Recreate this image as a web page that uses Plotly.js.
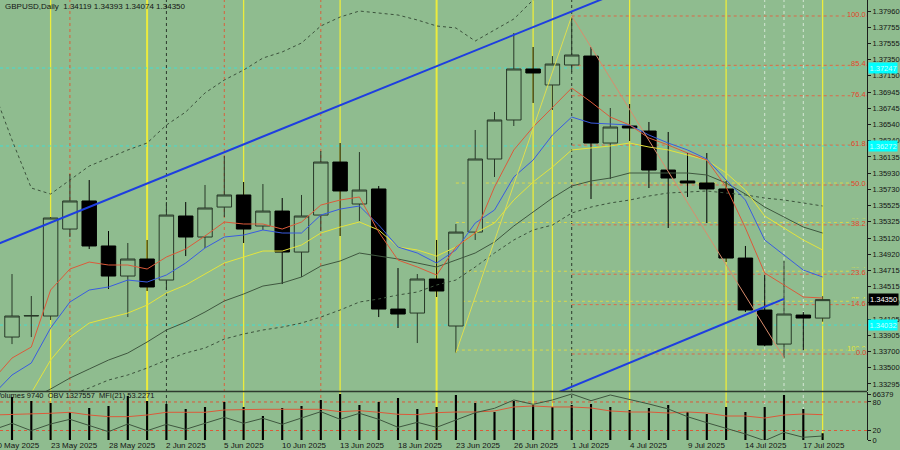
<!DOCTYPE html>
<html><head><meta charset="utf-8">
<script src="https://cdn.plot.ly/plotly-3.0.1.min.js"></script>
<style>html,body{margin:0;padding:0;background:#8fbc8f;overflow:hidden}#chart{width:900px;height:450px}</style>
</head><body><div id="chart"></div>
<script>
const dates = ['20 May 2025','21 May 2025','22 May 2025','23 May 2025','26 May 2025','27 May 2025','28 May 2025','29 May 2025','30 May 2025','2 Jun 2025','3 Jun 2025','4 Jun 2025','5 Jun 2025','6 Jun 2025','9 Jun 2025','10 Jun 2025','11 Jun 2025','12 Jun 2025','13 Jun 2025','16 Jun 2025','17 Jun 2025','18 Jun 2025','19 Jun 2025','20 Jun 2025','23 Jun 2025','24 Jun 2025','25 Jun 2025','26 Jun 2025','27 Jun 2025','30 Jun 2025','1 Jul 2025','2 Jul 2025','3 Jul 2025','4 Jul 2025','7 Jul 2025','8 Jul 2025','9 Jul 2025','10 Jul 2025','11 Jul 2025','14 Jul 2025','15 Jul 2025','16 Jul 2025','17 Jul 2025','18 Jul 2025'];
const xTickLabels = ['20 May 2025','23 May 2025','28 May 2025','2 Jun 2025','5 Jun 2025','10 Jun 2025','13 Jun 2025','18 Jun 2025','23 Jun 2025','26 Jun 2025','1 Jul 2025','4 Jul 2025','9 Jul 2025','14 Jul 2025','17 Jul 2025'];
const priceTicks = [1.37960,1.37755,1.37555,1.37350,1.37150,1.36945,1.36745,1.36540,1.36340,1.36135,1.35930,1.35730,1.35525,1.35325,1.35120,1.34920,1.34715,1.34515,1.34310,1.34105,1.33905,1.33700,1.33500,1.33295];

const open  = [null,1.33882,1.34145,1.34145,1.35233,1.35584,1.35021,1.34645,1.34858,1.34595,1.35396,1.35133,1.35508,1.35659,1.35271,1.35458,1.34945,1.35408,1.36071,1.35546,1.35734,1.34232,1.34182,1.34608,1.34020,1.35195,1.36109,1.36597,1.37235,1.37035,1.37285,1.37397,1.36309,1.36522,1.36459,1.35971,1.35834,1.35809,1.35734,1.34870,1.34220,1.33794,1.34157,1.34119];
const high  = [null,1.34670,1.34395,1.35383,1.35921,1.35846,1.35208,1.35058,1.35096,1.35571,1.35571,1.35784,1.36146,1.35821,1.35796,1.35621,1.35659,1.36209,1.36309,1.36196,1.35771,1.34745,1.34670,1.35096,1.35296,1.36472,1.36697,1.37685,1.37510,1.37397,1.37898,1.37510,1.36747,1.36797,1.36572,1.36447,1.36184,1.36184,1.35834,1.35021,1.34658,1.34833,1.34195,1.34393];
const low   = [null,1.33794,1.33882,1.34095,1.35133,1.34983,1.34483,1.34132,1.34458,1.34470,1.34895,1.34996,1.35383,1.35058,1.35221,1.34545,1.34633,1.35208,1.35146,1.35333,1.34132,1.33995,1.33807,1.34383,1.33682,1.35096,1.35884,1.36522,1.36810,1.36722,1.37197,1.35609,1.35859,1.36334,1.35746,1.35246,1.35634,1.35308,1.34820,1.34195,1.33769,1.33619,1.33719,1.34074];
const close = [null,1.34145,1.34150,1.35371,1.35584,1.35021,1.34645,1.34858,1.34508,1.35408,1.35133,1.35496,1.35659,1.35233,1.35458,1.34945,1.35396,1.36071,1.35709,1.35721,1.34232,1.34170,1.34608,1.34458,1.35195,1.36109,1.36597,1.37235,1.37185,1.37297,1.37410,1.36309,1.36509,1.36497,1.35971,1.35871,1.35809,1.35734,1.34870,1.34220,1.33782,1.34170,1.34120,1.34350];

const maRed    = [1.33344,1.33619,1.33757,1.34470,1.34733,1.34820,1.34783,1.34783,1.34733,1.34883,1.34983,1.35146,1.35321,1.35296,1.35296,1.35233,1.35321,1.35533,1.35596,1.35634,1.35196,1.34845,1.34758,1.34658,1.35008,1.35183,1.35759,1.36222,1.36509,1.36759,1.36997,1.36822,1.36634,1.36534,1.36372,1.36284,1.36184,1.36096,1.35759,1.35246,1.34683,1.34533,1.34383,1.34370];
const maBlue   = [1.33157,1.33407,1.33557,1.33995,1.34320,1.34470,1.34508,1.34595,1.34570,1.34658,1.34808,1.34996,1.35133,1.35158,1.35221,1.35183,1.35183,1.35408,1.35483,1.35521,1.35283,1.35008,1.34933,1.34808,1.34971,1.35308,1.35471,1.35884,1.36096,1.36409,1.36634,1.36559,1.36547,1.36534,1.36409,1.36309,1.36222,1.36109,1.35846,1.35596,1.35096,1.34908,1.34720,1.34633];
const maYellow = [1.32781,1.32969,1.33182,1.33594,1.33882,1.34057,1.34120,1.34182,1.34282,1.34433,1.34533,1.34670,1.34808,1.34883,1.34958,1.34958,1.35033,1.35183,1.35258,1.35321,1.35221,1.35008,1.34971,1.34895,1.35008,1.35183,1.35308,1.35596,1.35821,1.36009,1.36222,1.36247,1.36272,1.36309,1.36259,1.36222,1.36159,1.36096,1.35934,1.35721,1.35396,1.35246,1.35096,1.34971];
const maDark   = [1.32869,1.32994,1.33107,1.33232,1.33369,1.33482,1.33594,1.33682,1.33820,1.33970,1.34070,1.34195,1.34333,1.34420,1.34520,1.34558,1.34633,1.34770,1.34833,1.34933,1.34895,1.34858,1.34808,1.34758,1.34845,1.34933,1.35071,1.35271,1.35446,1.35621,1.35771,1.35834,1.35871,1.35934,1.35934,1.35934,1.35934,1.35909,1.35809,1.35671,1.35508,1.35383,1.35258,1.35183];
const bandUp   = [1.36997,1.36347,1.35746,1.35671,1.35846,1.36021,1.36121,1.36222,1.36309,1.36534,1.36697,1.36935,1.37097,1.37222,1.37372,1.37448,1.37560,1.37773,1.37885,1.37960,1.37935,1.37910,1.37848,1.37773,1.37748,1.37585,1.37723,1.37860,1.38098,1.38286,1.38473,1.38536,1.38600,1.38660,1.38700,1.38720,1.38740,1.38740,1.38720,1.38680,1.38640,1.38600,1.38580,1.38560];
const bandLow  = [1.32594,1.32781,1.32944,1.33069,1.33157,1.33244,1.33344,1.33407,1.33494,1.33594,1.33682,1.33745,1.33857,1.33920,1.33970,1.34007,1.34057,1.34132,1.34220,1.34320,1.34358,1.34408,1.34445,1.34533,1.34595,1.34758,1.34933,1.35096,1.35221,1.35283,1.35433,1.35508,1.35559,1.35596,1.35646,1.35684,1.35696,1.35709,1.35684,1.35659,1.35621,1.35596,1.35559,1.35521];

const volume = [null,62049,56277,53391,40404,46176,49062,63492,56277,51948,44733,47619,54834,47619,34632,46176,49062,57720,66379,50505,54834,60606,44733,47619,64935,53391,40404,56277,50505,47619,50505,51948,47619,43290,46176,50505,40404,37518,47619,40404,47619,64935,44733,9740];
const mfi = [52.6,53.3,54.7,56.2,58.3,52.6,49.1,49.1,52.6,58.3,58.3,58.3,63.2,64.6,64.6,64.6,64.6,64.6,59.6,61.7,58.3,54.1,53.3,57.5,58.9,58.9,61.1,69.5,71.6,69.5,69.5,67.4,61.1,58.9,58.9,56.8,58.9,56.8,50.5,50.5,46.3,52.6,54.7,53.2271];
const obv = [1372000,1421500,1366800,1416400,1451100,1403800,1359400,1416400,1366800,1414100,1377100,1421500,1465900,1421500,1458500,1414100,1458500,1507400,1451100,1495500,1451100,1391900,1428900,1391900,1446000,1500000,1532500,1594000,1562100,1594000,1638400,1588800,1631000,1599100,1564400,1527400,1470400,1426000,1384500,1342400,1292800,1354900,1317900,1327557];

const trendUpDates = ['20 May 2025','3 Jul 2025'], trendUpPrices = [1.3502, 1.3815];
const trendLowDates = ['30 Jun 2025','16 Jul 2025'], trendLowPrices = [1.3316, 1.3436];
const zigDates = ['23 Jun 2025','1 Jul 2025','16 Jul 2025'];
const fibLevels = [0,14.6,23.6,38.2,50,61.8,76.4,85.4,100];
const fibYellowShown = [50,61.8,76.4,85.4,100];
const cyanLevels = [1.37247, 1.36272, 1.34032];
const yellowV = ['23 May 2025','30 May 2025','6 Jun 2025','13 Jun 2025','20 Jun 2025','27 Jun 2025','30 Jun 2025','4 Jul 2025','11 Jul 2025','18 Jul 2025'];
const yellowThick = ['30 May 2025','20 Jun 2025'];
const redV = ['26 May 2025','5 Jun 2025','12 Jun 2025'];
const sepV = ['2 Jun 2025','1 Jul 2025'];
const whiteV = ['15 Jul 2025','16 Jul 2025','17 Jul 2025'];
const header = 'GBPUSD,Daily  1.34119 1.34393 1.34074 1.34350';
const subHeader = 'Volumes 9740  OBV 1327557  MFI(21) 53.2271';
const lastPrice = 1.34350;

const BG = '#8fbc8f';
const FONT = 'Liberation Sans';
const idx = d => dates.indexOf(d);
const xs = dates.map((d,i)=>i);
const XR = [0.378, 45.30];
const toPaperX = i => (i - XR[0])/(XR[1]-XR[0]);
const MAIN_BOTTOM = 49/440, LOW_TOP = 48/440;

const line = (y, color, extra) => Object.assign({type:'scatter', mode:'lines', x:xs, y:y, line:Object.assign({color:color, width:1}, extra||{}), hoverinfo:'skip', xaxis:'x', yaxis:'y'});

const zLow1 = low[idx(zigDates[0])], zHigh = high[idx(zigDates[1])], zLow2 = low[idx(zigDates[2])];

const traces = [
  line(bandUp, '#3c523c', {dash:'dot'}),
  line(bandLow, '#3c523c', {dash:'dot'}),
  line(maDark, '#3f573f'),
  line(maYellow, '#e4e43c'),
  line(maBlue, '#3a5ce0'),
  line(maRed, '#dc5a3a'),
  {type:'scatter', mode:'lines', x:[idx(zigDates[0]), idx(zigDates[1])], y:[zLow1, zHigh], line:{color:'#dede50', width:1}, hoverinfo:'skip'},
  {type:'scatter', mode:'lines', x:[idx(zigDates[1]), idx(zigDates[2])], y:[zHigh, zLow2], line:{color:'#d98c6c', width:1}, hoverinfo:'skip'},
  {type:'scatter', mode:'lines', x:trendUpDates.map(idx), y:trendUpPrices, line:{color:'#1e3ee0', width:2}, hoverinfo:'skip'},
  {type:'scatter', mode:'lines', x:trendLowDates.map(idx), y:trendLowPrices, line:{color:'#1e3ee0', width:2}, hoverinfo:'skip'},
  {type:'candlestick', x:xs, open:open, high:high, low:low, close:close, whiskerwidth:0,
   increasing:{line:{color:'#283828', width:1}, fillcolor:BG},
   decreasing:{line:{color:'#000000', width:1}, fillcolor:'#000000'}, hoverinfo:'skip'},
  {type:'bar', x:xs, y:volume, yaxis:'y2', marker:{color:'#000000'}, width:0.11, hoverinfo:'skip'},
  {type:'scatter', mode:'lines', x:xs, y:obv, yaxis:'y4', line:{color:'#3f573f', width:1}, hoverinfo:'skip'},
  {type:'scatter', mode:'lines', x:xs, y:mfi, yaxis:'y3', line:{color:'#dc5a3a', width:1}, hoverinfo:'skip'}
];

const shapes = [];
const vline = (d, color, width, dash) => shapes.push({type:'line', xref:'x', yref:'paper', x0:idx(d), x1:idx(d), y0:0, y1:1, line:{color:color, width:width, dash:dash}, layer:'below'});
yellowV.forEach(d => vline(d, '#ecec3c', yellowThick.includes(d) ? 2 : 1.3, 'solid'));
redV.forEach(d => vline(d, '#d8603c', 1, 'dot'));
sepV.forEach(d => vline(d, '#2c3a2c', 1, 'dot'));
whiteV.forEach(d => vline(d, '#d4e6d4', 1, 'dot'));
const hline = (x0, y, color) => shapes.push({type:'line', xref:'x', yref:'y', x0:x0, x1:XR[1], y0:y, y1:y, line:{color:color, width:1, dash:'dot'}, layer:'below'});
cyanLevels.forEach(p => hline(XR[0], p, '#44ddd0'));
const yStart = idx('23 Jun 2025'), rStart = idx('1 Jul 2025');
const yHi = zHigh, yLo = low[idx('17 Jul 2025')];
const annotations = [];
fibYellowShown.forEach(p => {
  const price = yHi - p/100*(yHi - yLo);
  hline(yStart, price, '#d8d84c');
  annotations.push({xref:'paper', yref:'y', x:1, y:price, xanchor:'right', yanchor:'middle', yshift:1.5, text:p.toFixed(1), showarrow:false, font:{family:FONT, size:7.5, color:'#e4e43a'}, bgcolor:BG, borderpad:0});
});
const rLo = zLow1 - 0.00012, rHi = zHigh;
fibLevels.forEach(p => {
  const price = rLo + p/100*(rHi - rLo);
  hline(rStart, price, '#dc6a48');
  annotations.push({xref:'paper', yref:'y', x:1, y:price, xanchor:'right', yanchor:'middle', yshift:1.5, text:p.toFixed(1), showarrow:false, font:{family:FONT, size:7.5, color:'#e4442a'}, bgcolor:BG, borderpad:0});
});
[80, 20].forEach(v => shapes.push({type:'line', xref:'paper', yref:'y3', x0:0, x1:1, y0:v, y1:v, line:{color:'#dc5a3a', width:1, dash:'dot'}, layer:'below'}));
shapes.push({type:'line', xref:'paper', yref:'paper', x0:0, x1:1, y0:(MAIN_BOTTOM+LOW_TOP)/2, y1:(MAIN_BOTTOM+LOW_TOP)/2, line:{color:'#2e3a2e', width:1.5}, layer:'above'});

annotations.push({xref:'paper', yref:'paper', x:3/867, y:(440-6)/440, xanchor:'left', yanchor:'middle', text:header, showarrow:false, font:{family:FONT, size:8, color:'#141414'}});
annotations.push({xref:'paper', yref:'paper', x:-6/867, y:(440-395)/440, xanchor:'left', yanchor:'middle', text:subHeader, showarrow:false, font:{family:FONT, size:7.5, color:'#141414'}});
xTickLabels.forEach(d => annotations.push({xref:'paper', yref:'paper', x:toPaperX(idx(d)), y:-5/440, xanchor:'left', yanchor:'middle', xshift:-1, borderpad:0, text:d, showarrow:false, font:{family:FONT, size:8, color:'#141414'}}));
annotations.push({xref:'paper', yref:'y', x:1, y:lastPrice, xanchor:'left', yanchor:'middle', xshift:1, text:lastPrice.toFixed(5), showarrow:false, bgcolor:'#000000', borderpad:1, font:{family:FONT, size:7.5, color:'#ffffff'}});
cyanLevels.forEach(p => annotations.push({xref:'paper', yref:'y', x:1, y:p, xanchor:'left', yanchor:'middle', xshift:1, text:p.toFixed(5), showarrow:false, bgcolor:'#00ffff', borderpad:0.5, font:{family:FONT, size:7.5, color:'#c8ffff'}}));

const tickFont = {family:FONT, size:7.5, color:'#141414'};
const volMax = Math.max(...volume.filter(v=>v!=null));
const obvLo = 1297957, obvPerPx = 7400;
const layout = {
  width:900, height:450, margin:{l:0, r:33, t:0, b:10},
  paper_bgcolor:BG, plot_bgcolor:BG, showlegend:false, font:{family:FONT},
  boxgap:0.25, boxgroupgap:0,
  xaxis:{range:XR, showgrid:false, zeroline:false, showticklabels:false, ticks:'', rangeslider:{visible:false}, anchor:'y2', fixedrange:true},
  yaxis:{domain:[MAIN_BOTTOM,1], range:[1.33207,1.38098], side:'right', anchor:'x', tickvals:priceTicks, ticktext:priceTicks.map(v=>v.toFixed(5)), ticks:'outside', ticklen:3, tickcolor:'#1c1c1c', showline:true, linecolor:'#1c1c1c', linewidth:1, showgrid:false, zeroline:false, tickfont:tickFont},
  yaxis2:{domain:[0,LOW_TOP], range:[0, volMax*48/46], side:'right', anchor:'x', tickvals:[volMax], ticktext:[String(volMax)], ticks:'outside', ticklen:3, tickcolor:'#1c1c1c', showline:true, linecolor:'#1c1c1c', showgrid:false, zeroline:false, tickfont:tickFont},
  yaxis3:{overlaying:'y2', range:[0,101], side:'right', anchor:'x', tickvals:[0,20,80], ticktext:['0','20','80'], ticks:'outside', ticklen:3, tickcolor:'#1c1c1c', showgrid:false, zeroline:false, tickfont:tickFont},
  yaxis4:{overlaying:'y2', range:[obvLo, obvLo + 48*obvPerPx], visible:false},
  shapes:shapes, annotations:annotations
};
Plotly.newPlot('chart', traces, layout, {staticPlot:true, displayModeBar:false});
</script></body></html>
